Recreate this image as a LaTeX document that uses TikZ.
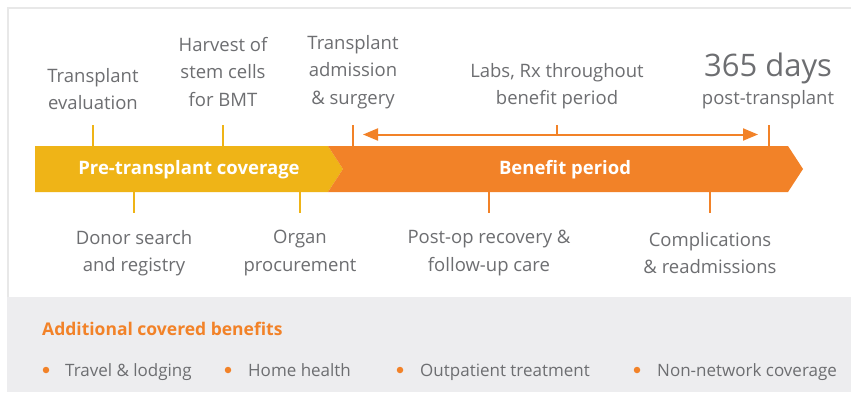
\documentclass[tikz,border=0pt]{standalone}
\usepackage{fontspec}
\setmainfont{Open Sans}
\usetikzlibrary{arrows.meta}
\definecolor{cyel}{HTML}{EFB417}
\definecolor{corg}{HTML}{F28228}
\definecolor{ctxt}{HTML}{6D6E71}
\definecolor{cband}{HTML}{EDEDEF}
\definecolor{cframe}{HTML}{E8E8E8}
\tikzset{
  lbl/.style={align=center, text=ctxt, inner sep=0pt, font=\fontsize{18.5}{27.5}\selectfont},
  barlbl/.style={text=white, inner sep=0pt, font=\bfseries\fontsize{18.5}{22}\selectfont},
  tickY/.style={draw=cyel, line width=2.5pt},
  tickO/.style={draw=corg, line width=2.5pt},
  bul/.style={text=ctxt, inner sep=0pt, anchor=base west, font=\fontsize{17}{20}\selectfont},
  dot/.style={circle, fill=corg, inner sep=0pt, minimum size=6.5pt},
}
\begin{document}
\begin{tikzpicture}[x=1pt,y=-1pt]
\useasboundingbox (0,0) rectangle (851,392);
% frame and band
\fill[white] (0,0) rectangle (851,392);
\draw[cframe, line width=2pt] (8,297) -- (8,8) -- (851,8);
\fill[cband] (7,297) rectangle (851,392);
% bar
\fill[cyel] (35,146) -- (328,146) -- (343,169) -- (328,192) -- (35,192) -- cycle;
\fill[corg] (328,146) -- (788,146) -- (803,169) -- (788,192) -- (328,192) -- (343,169) -- cycle;
\node[barlbl] (pre) at (189,170) {Pre-transplant coverage};
\node[barlbl] (ben) at (565,170) {Benefit period};
% tick coordinates
\coordinate (t1a) at (93,125);  \coordinate (t1b) at (93,146);
\coordinate (t2a) at (223,125); \coordinate (t2b) at (223,146);
\coordinate (t3a) at (353,125); \coordinate (t3b) at (353,146);
\coordinate (t4a) at (557,125); \coordinate (t4b) at (557,134.5);
\coordinate (t5a) at (769,125); \coordinate (t5b) at (769,146);
\coordinate (b1a) at (134,192); \coordinate (b1b) at (134,213);
\coordinate (b2a) at (300,192); \coordinate (b2b) at (300,213);
\coordinate (b3a) at (489,192); \coordinate (b3b) at (489,213);
\coordinate (b4a) at (710,192); \coordinate (b4b) at (710,213);
\coordinate (arL) at (363,134.5); \coordinate (arR) at (758,134.5);
\draw[tickY] (t1a) -- (t1b);
\draw[tickY] (t2a) -- (t2b);
\draw[tickO] (t3a) -- (t3b);
\draw[tickO] (t4a) -- (t4b);
\draw[tickO] (t5a) -- (t5b);
\draw[tickY] (b1a) -- (b1b);
\draw[tickY] (b2a) -- (b2b);
\draw[tickO] (b3a) -- (b3b);
\draw[tickO] (b4a) -- (b4b);
\draw[corg, line width=2pt, {Triangle[length=15pt,width=12pt]}-{Triangle[length=15pt,width=12pt]}] (arL) -- (arR);
% labels above
\node[lbl] (l1) at (93,89) {Transplant\\evaluation};
\node[lbl] (l2) at (223,72) {Harvest of\\stem cells\\for BMT};
\node[lbl] (l3) at (353,72) {Transplant\\admission\\\& surgery};
\node[lbl] (l4) at (557,86) {Labs, Rx throughout\\benefit period};
\node[lbl, font=\fontsize{31}{34}\selectfont] (l5a) at (768,68) {365 days};
\node[lbl] (l5b) at (768,100) {post-transplant};
% labels below
\node[lbl] (d1) at (134,253) {Donor search\\and registry};
\node[lbl] (d2) at (300,253) {Organ\\procurement};
\node[lbl] (d3) at (489,253) {Post-op recovery \&\\follow-up care};
\node[lbl] (d4) at (710,253) {Complications\\\& readmissions};
% bottom band
\node[text=corg, inner sep=0pt, anchor=base west, font=\bfseries\fontsize{17.5}{20}\selectfont] (hd) at (42,335) {Additional covered benefits};
\node[dot] (p1) at (46,370) {};
\node[bul] (q1) at (65,376) {Travel \& lodging};
\node[dot] (p2) at (228,370) {};
\node[bul] (q2) at (248,376) {Home health};
\node[dot] (p3) at (400,370) {};
\node[bul] (q3) at (420,376) {Outpatient treatment};
\node[dot] (p4) at (637,370) {};
\node[bul] (q4) at (657,376) {Non-network coverage};
\end{tikzpicture}
\end{document}
